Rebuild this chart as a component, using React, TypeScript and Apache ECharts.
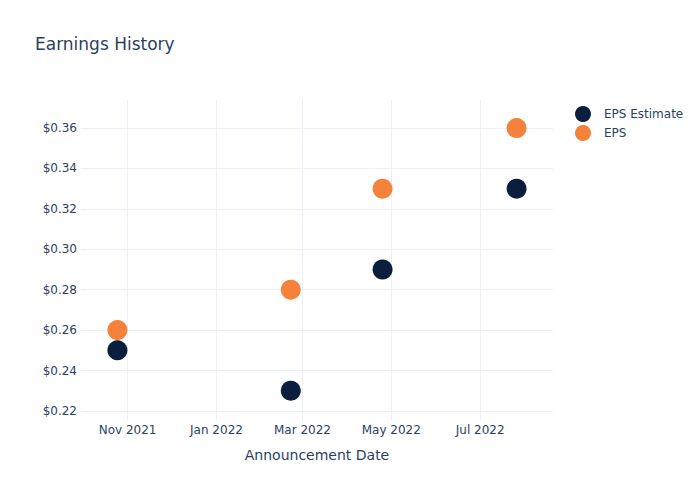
import React, { useEffect, useRef } from "react";
import * as echarts from "echarts";

const announceDates = ["2021-10-25", "2022-02-21", "2022-04-25", "2022-07-26"];
const epsEstimate = [0.25, 0.23, 0.29, 0.33];
const epsActual = [0.26, 0.28, 0.33, 0.36];
const yTicks = [0.22, 0.24, 0.26, 0.28, 0.3, 0.32, 0.34, 0.36];
const xTickDates = ["2021-11-01", "2022-01-01", "2022-03-01", "2022-05-01", "2022-07-01"];
const xRange = ["2021-09-30", "2022-08-20"];
const yRange = [0.2155, 0.3739];
const monthNames = ["Jan", "Feb", "Mar", "Apr", "May", "Jun", "Jul", "Aug", "Sep", "Oct", "Nov", "Dec"];

const ts = (s: string) => Date.parse(s);
const FONT = "DejaVu Sans";
const TXT = "#2a3f5f";
const GRID = "#ebf0f8";

export default function App() {
  const ref = useRef<HTMLDivElement>(null);
  useEffect(() => {
    if (!ref.current) return;
    const chart = echarts.init(ref.current, undefined, { renderer: "svg" });
    const xTicks = xTickDates.map(ts);
    chart.setOption({
      animation: false,
      backgroundColor: "#ffffff",
      textStyle: { fontFamily: FONT },
      title: {
        text: "Earnings History",
        left: 30,
        top: 30,
        textStyle: { fontFamily: FONT, fontSize: 17, fontWeight: "normal", color: TXT },
      },
      legend: {
        data: ["EPS Estimate", "EPS"],
        orient: "vertical",
        left: 570,
        top: 101,
        itemGap: 3,
        itemWidth: 16,
        itemHeight: 16,
        icon: "circle",
        textStyle: { fontFamily: FONT, fontSize: 12, color: TXT, padding: [0, 0, 0, 8] },
      },
      grid: { left: 81, right: 147, top: 100, bottom: 80, containLabel: false },
      xAxis: {
        type: "value",
        min: ts(xRange[0]),
        max: ts(xRange[1]),
        name: "Announcement Date",
        nameLocation: "middle",
        nameGap: 28,
        nameTextStyle: { fontFamily: FONT, fontSize: 14, color: TXT },
        axisLine: { show: false },
        axisTick: { show: false },
        splitLine: { show: false },
        axisLabel: {
          customValues: xTicks,
          margin: 4,
          fontFamily: FONT,
          fontSize: 12,
          color: TXT,
          formatter: (v: number) => {
            const d = new Date(v);
            return monthNames[d.getUTCMonth()] + " " + d.getUTCFullYear();
          },
        },
      },
      yAxis: {
        type: "value",
        min: yRange[0],
        max: yRange[1],
        axisLine: { show: false },
        axisTick: { show: false },
        splitLine: { show: false },
        axisLabel: {
          customValues: yTicks,
          margin: 4,
          fontFamily: FONT,
          fontSize: 12,
          color: TXT,
          formatter: (v: number) => "$" + v.toFixed(2),
        },
      },
      series: [
        {
          name: "gridlines",
          type: "scatter",
          data: [],
          z: 0,
          silent: true,
          markLine: {
            silent: true,
            z: 0,
            symbol: ["none", "none"],
            label: { show: false },
            lineStyle: { color: GRID, width: 1, type: "solid" },
            data: [
              ...yTicks.map((v) => ({ yAxis: v })),
              ...xTicks.map((t) => ({ xAxis: t })),
            ],
          },
        },
        {
          name: "EPS Estimate",
          type: "scatter",
          symbolSize: 20,
          z: 3,
          itemStyle: { color: "#0c1e3e", opacity: 1 },
          data: announceDates.map((d, i) => [ts(d), epsEstimate[i]]),
        },
        {
          name: "EPS",
          type: "scatter",
          symbolSize: 20,
          z: 3,
          itemStyle: { color: "#f5813a", opacity: 1 },
          data: announceDates.map((d, i) => [ts(d), epsActual[i]]),
        },
      ],
    });
    return () => chart.dispose();
  }, []);
  return (
    <div
      ref={ref}
      style={{ position: "fixed", left: 0, top: 0, width: 700, height: 500 }}
    />
  );
}
